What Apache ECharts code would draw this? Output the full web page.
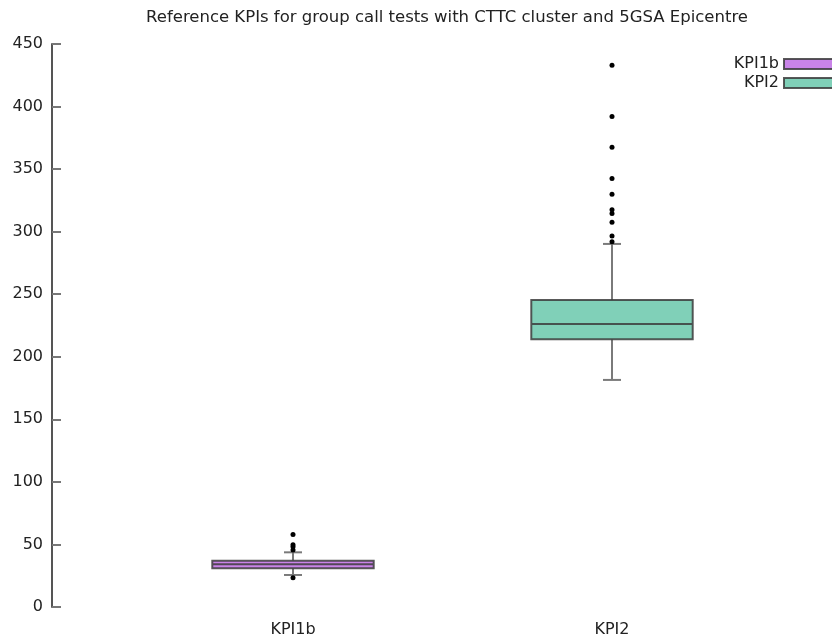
<!DOCTYPE html>
<html>
<head>
<meta charset="utf-8">
<script src="https://cdn.jsdelivr.net/npm/echarts@6/dist/echarts.min.js"></script>
<style>html,body{margin:0;padding:0;background:#fff}#c{width:832px;height:642px}</style>
</head>
<body>
<div id="c"></div>
<script>
const categories = ['KPI1b', 'KPI2'];
// [lower whisker, Q1, median, Q3, upper whisker]
const kpi1bBox = [25.6, 30.9, 34.1, 37.0, 43.7];
const kpi2Box = [181.5, 214.0, 226.2, 245.4, 290.2];
const kpi1bOutliers = [58, 49.8, 48.2, 45.6, 23.4];
const kpi2Outliers = [433, 392, 367.5, 342.5, 330, 317.5, 314.5, 307.5, 296.5, 292];
const yTicks = [0, 50, 100, 150, 200, 250, 300, 350, 400, 450];
const titleText = 'Reference KPIs for group call tests with CTTC cluster and 5GSA Epicentre';
const colors = ['#c984e8', '#80d0b8'];

const boxes = [kpi1bBox, kpi2Box];
const FONT = 'DejaVu Sans';
const BORDER = 'rgba(60,60,60,0.85)';

const chart = echarts.init(document.getElementById('c'), null, {renderer: 'canvas'});

function whiskerItem(params, api) {
  const i = api.value(0);
  const lo = api.value(1), q1 = api.value(2), q3 = api.value(3), hi = api.value(4);
  const pLo = api.coord([i, lo]), pQ1 = api.coord([i, q1]);
  const pQ3 = api.coord([i, q3]), pHi = api.coord([i, hi]);
  const half = 9;
  const st = {stroke: '#7a7a7a', lineWidth: 2};
  return {
    type: 'group',
    children: [
      {type: 'line', shape: {x1: pQ3[0], y1: pQ3[1], x2: pHi[0], y2: pHi[1]}, style: st},
      {type: 'line', shape: {x1: pQ1[0], y1: pQ1[1], x2: pLo[0], y2: pLo[1]}, style: st},
      {type: 'line', shape: {x1: pHi[0] - half, y1: pHi[1], x2: pHi[0] + half, y2: pHi[1]}, style: st},
      {type: 'line', shape: {x1: pLo[0] - half, y1: pLo[1], x2: pLo[0] + half, y2: pLo[1]}, style: st}
    ]
  };
}

const hiddenX = {
  type: 'category', data: categories, boundaryGap: true, show: false
};

const option = {
  animation: false,
  backgroundColor: '#ffffff',
  textStyle: {fontFamily: FONT},
  title: {
    text: titleText,
    left: 442, top: 4, textAlign: 'center',
    textStyle: {fontFamily: FONT, fontSize: 16.5, fontWeight: 'normal', color: '#222'}
  },
  legend: {
    data: categories.map((c, i) => ({
      name: c,
      itemStyle: {color: colors[i], borderColor: BORDER, borderWidth: 2}
    })),
    orient: 'vertical',
    right: -8, top: 51,
    align: 'right',
    itemWidth: 50, itemHeight: 10, itemGap: 3,
    textStyle: {fontFamily: FONT, fontSize: 16, color: '#222'},
    icon: 'rect'
  },
  grid: {left: 133.5, right: 60.5, top: 44, bottom: 35},
  xAxis: [
    {
      type: 'category',
      data: categories,
      boundaryGap: true,
      axisLine: {show: false},
      axisTick: {show: false},
      axisLabel: {fontFamily: FONT, fontSize: 16, color: '#222', margin: 15}
    },
    hiddenX
  ],
  yAxis: {
    type: 'value',
    min: yTicks[0], max: yTicks[yTicks.length - 1], interval: 50,
    offset: 81.5,
    splitLine: {show: false},
    axisLine: {show: true, lineStyle: {color: '#555', width: 2}},
    axisTick: {show: true, inside: true, length: 9, lineStyle: {color: '#777', width: 2}},
    axisLabel: {fontFamily: FONT, fontSize: 16, color: '#222', margin: 9}
  },
  series: [
    {
      name: 'whiskers',
      type: 'custom',
      renderItem: whiskerItem,
      data: boxes.map((b, i) => [i, b[0], b[1], b[3], b[4]]),
      z: 1,
      silent: true
    },
    {
      name: 'KPI1b',
      type: 'boxplot',
      xAxisIndex: 0,
      boxWidth: ['50.6%', '50.6%'],
      data: [[kpi1bBox[1], kpi1bBox[1], kpi1bBox[2], kpi1bBox[3], kpi1bBox[3]], '-'],
      itemStyle: {color: colors[0], borderColor: BORDER, borderWidth: 2},
      z: 3
    },
    {
      name: 'KPI2',
      type: 'boxplot',
      xAxisIndex: 1,
      boxWidth: ['50.6%', '50.6%'],
      data: ['-', [kpi2Box[1], kpi2Box[1], kpi2Box[2], kpi2Box[3], kpi2Box[3]]],
      itemStyle: {color: colors[1], borderColor: BORDER, borderWidth: 2},
      z: 3
    },
    {
      name: 'outliers',
      type: 'scatter',
      symbol: 'circle',
      symbolSize: 5,
      itemStyle: {color: '#000', opacity: 1},
      data: kpi1bOutliers.map(v => [0, v]).concat(kpi2Outliers.map(v => [1, v])),
      z: 5
    }
  ]
};
chart.setOption(option);
</script>
</body>
</html>
